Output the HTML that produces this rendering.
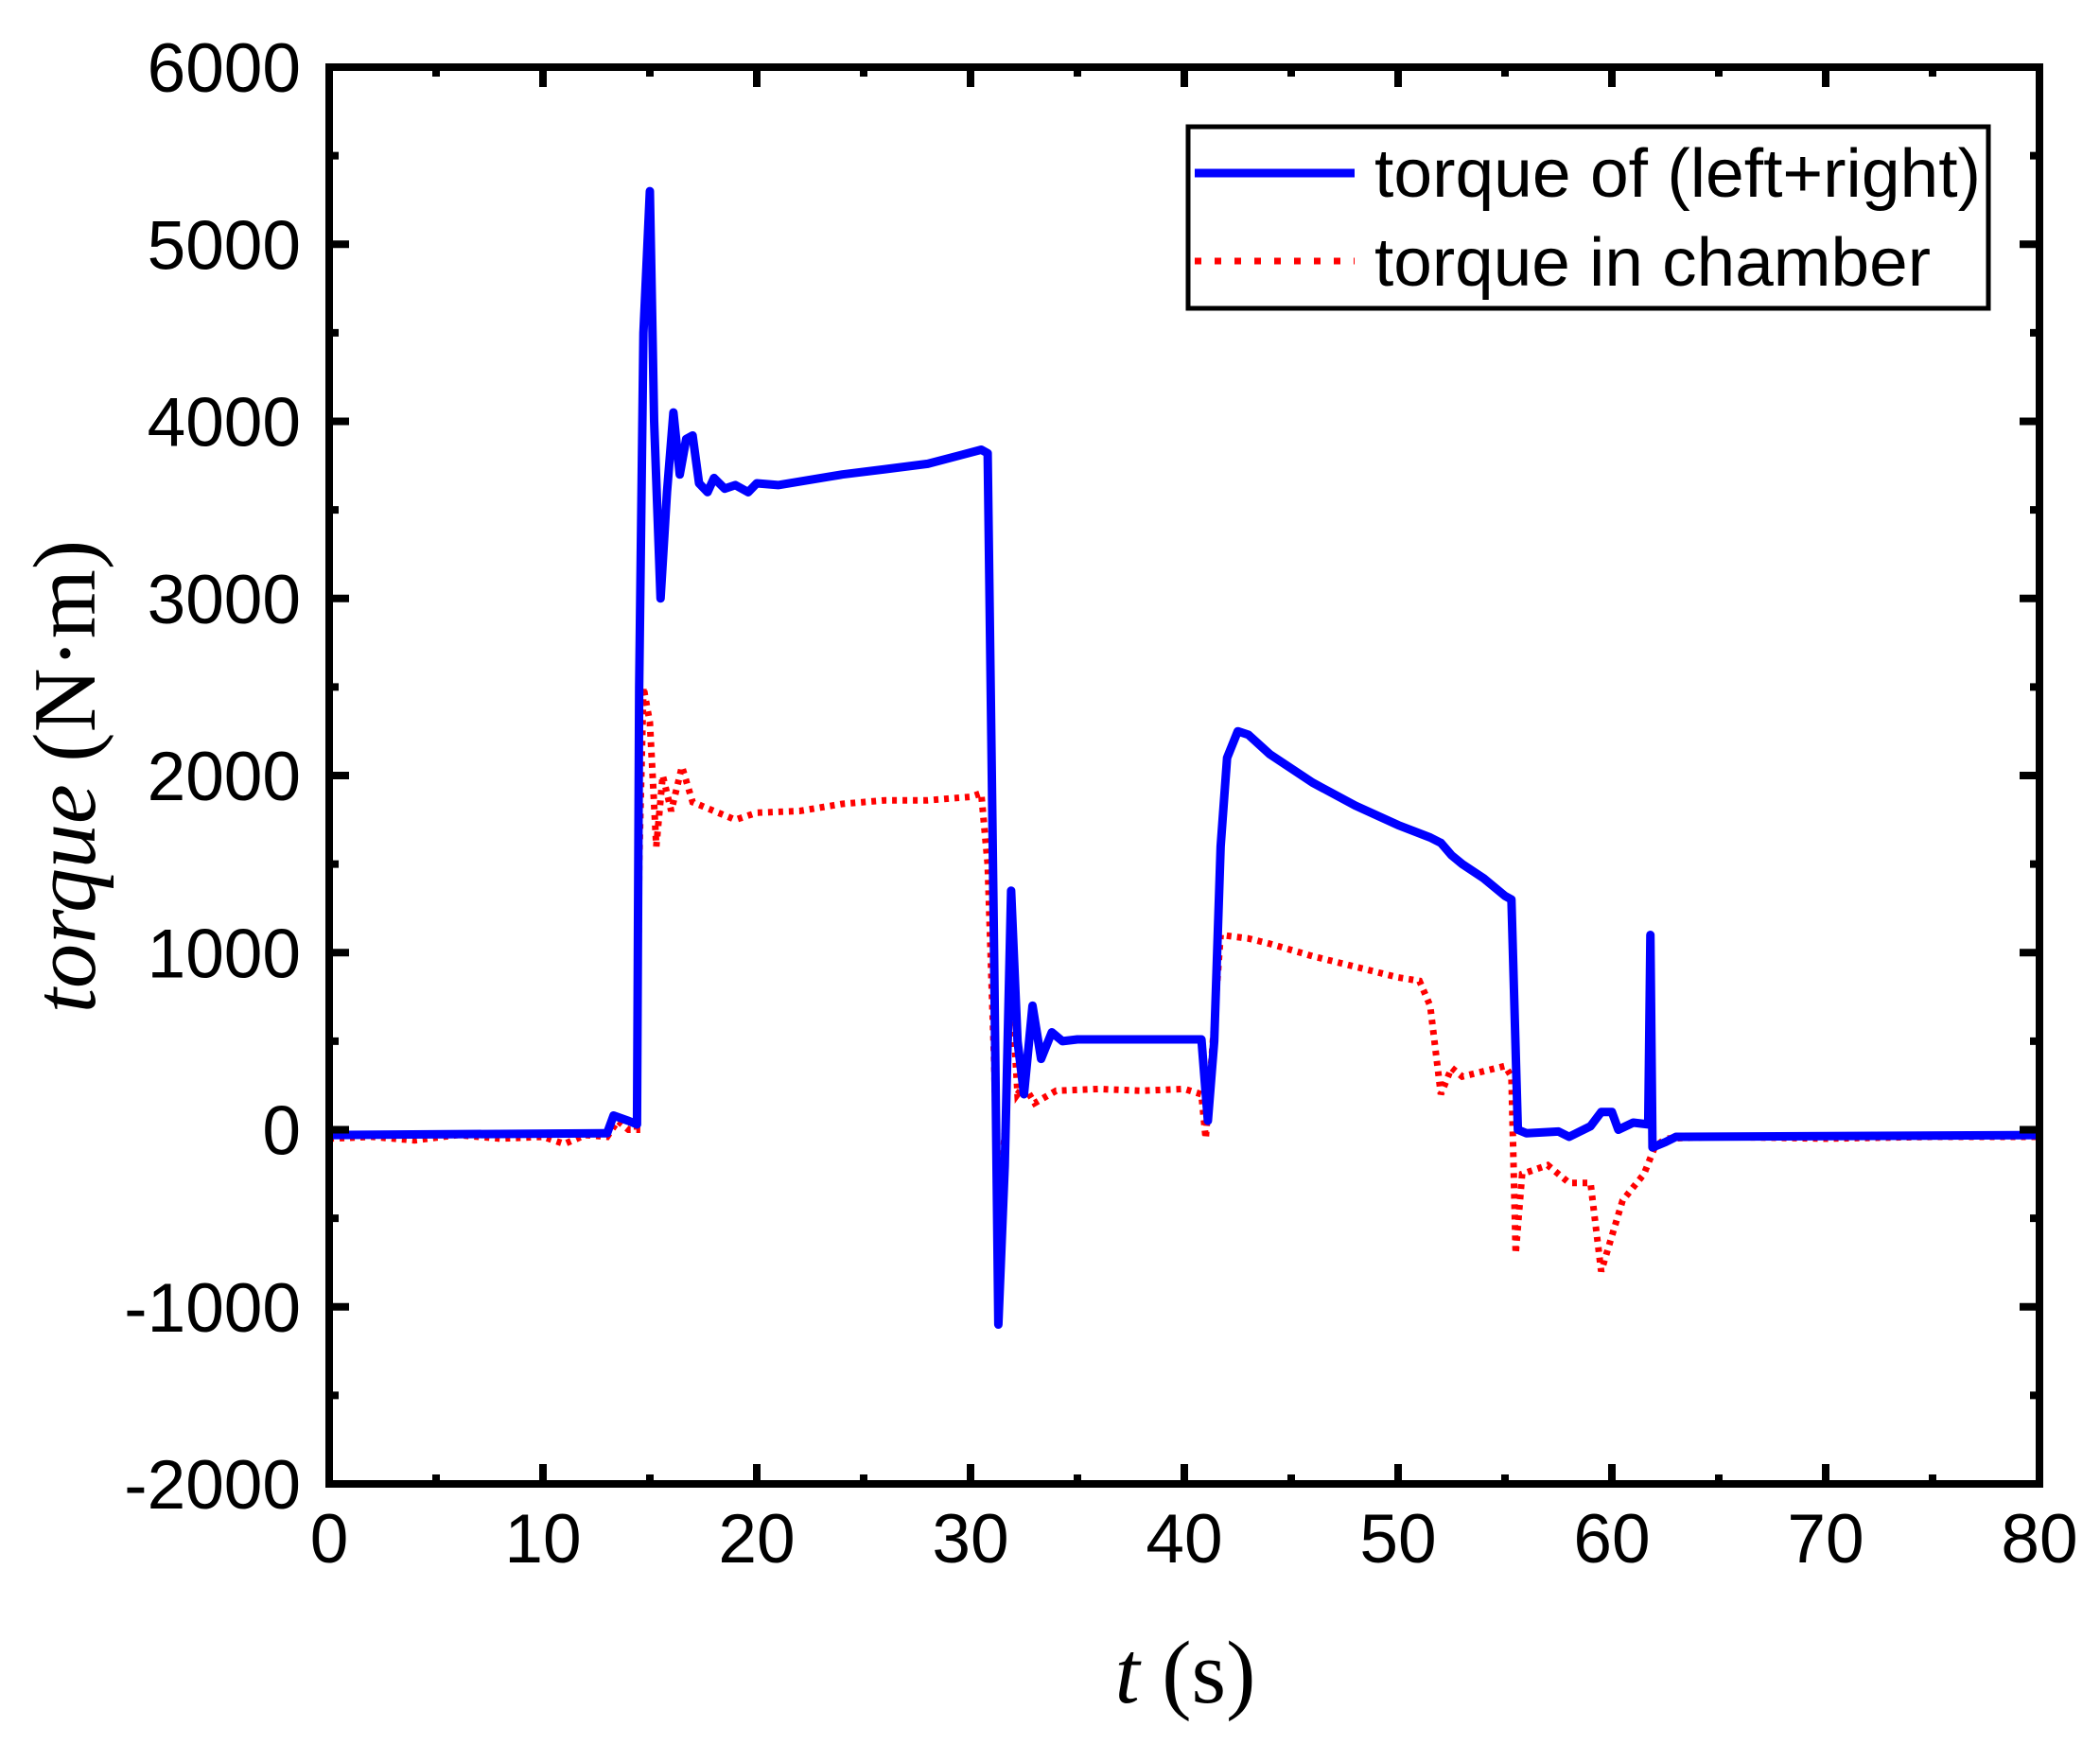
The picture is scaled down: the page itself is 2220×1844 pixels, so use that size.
<!DOCTYPE html>
<html><head><meta charset="utf-8"><style>
html,body{margin:0;padding:0;background:#fff}
svg{display:block}
</style></head><body>
<svg id="chart" width="2220" height="1844" viewBox="0 0 2220 1844" xmlns="http://www.w3.org/2000/svg">
<rect width="2220" height="1844" fill="#fff"/>
<g id="plot"></g>
<g id="axes"></g>
<text transform="translate(100,821) rotate(-90)" text-anchor="middle" font-family="Liberation Serif, serif" font-size="94"><tspan font-style="italic">torque</tspan> (N·m)</text>
<text x="1253" y="1800" text-anchor="middle" font-family="Liberation Serif, serif" font-size="94"><tspan font-style="italic">t</tspan> (s)</text>
<g>
<rect x="1256" y="134" width="846" height="192" fill="#fff" stroke="#000" stroke-width="5"/>
<line x1="1263" y1="183" x2="1432" y2="183" stroke="#0000ff" stroke-width="9"/>
<text x="1453" y="208" font-family="Liberation Sans, sans-serif" font-size="72" textLength="641" lengthAdjust="spacingAndGlyphs">torque of (left+right)</text>
<line x1="1263" y1="276" x2="1432" y2="276" stroke="#ff0000" stroke-width="7" stroke-dasharray="7 14"/>
<text x="1453" y="302" font-family="Liberation Sans, sans-serif" font-size="72" textLength="588" lengthAdjust="spacingAndGlyphs">torque in chamber</text>
</g>
</svg>
<script>
const blueT=[0,13,13.3,14,14.4,14.5,14.7,15.0,15.2,15.5,15.8,16.1,16.4,16.7,17,17.3,17.7,18,18.5,19,19.6,20,21,22,23,24,26,28,30.5,30.8,31.1,31.3,31.6,31.9,32.2,32.5,32.9,33.3,33.8,34.3,35,40.8,41.1,41.4,41.7,42.0,42.5,43,44,46,48,50,51.5,52,52.5,53,54,55,55.3,55.6,56,57.5,58,59,59.5,60,60.3,61,61.7,61.8,61.9,62.5,63,80];
const blueV=[-30,-20,80,50,30,2500,4500,5300,4000,3000,3600,4050,3700,3900,3920,3650,3600,3680,3620,3640,3600,3650,3640,3660,3680,3700,3730,3760,3840,3820,1000,-1100,-200,1350,500,200,700,400,550,500,510,510,50,500,1600,2100,2250,2230,2120,1960,1830,1720,1650,1620,1550,1500,1420,1320,1300,0,-20,-10,-40,20,100,100,0,40,30,1100,-100,-70,-40,-30];
const redT=[0,2,4,6,8,10,11,12,13,13.5,14,14.4,14.5,14.7,15,15.3,15.6,16,16.5,17,18,19,20,22,24,26,28,30,30.5,30.8,31.1,31.3,31.6,31.9,32.2,32.5,33,34,36,38,40,40.8,41,41.4,41.7,43,44,46,48,50,51,51.5,52,52.5,53,55,55.3,55.5,55.8,57,58,59,59.5,60,60.5,61.5,62,62.5,65,70,75,80];
const redV=[-50,-40,-60,-30,-50,-40,-80,-30,-40,50,0,0,1500,2500,2300,1600,2000,1800,2050,1850,1800,1750,1790,1800,1840,1860,1860,1880,1900,1500,400,-600,0,850,200,250,150,220,230,220,230,200,-50,600,1100,1080,1050,980,920,860,840,700,200,350,300,360,300,-700,-250,-200,-300,-300,-800,-600,-400,-250,-100,-50,-40,-50,-40,-40];
const xTicks=[0,10,20,30,40,50,60,70,80];
const yTicks=[-2000,-1000,0,1000,2000,3000,4000,5000,6000];
const X0=348,X1=2156,Y0=1569,Y1=71;
const sx=t=>X0+(t-0)/80*(X1-X0);
const sy=v=>Y0-(v+2000)/8000*(Y0-Y1);
const NS='http://www.w3.org/2000/svg';
const plot=document.getElementById('plot'),axes=document.getElementById('axes');
function mk(tag,parent){const e=document.createElementNS(NS,tag);parent.appendChild(e);return e;}
function path(T,V){return T.map((t,i)=>(i?'L':'M')+sx(t).toFixed(1)+','+sy(V[i]).toFixed(1)).join('');}
const r=mk('path',plot);


r.setAttribute('d',path(redT,redV));r.setAttribute('fill','none');r.setAttribute('stroke','#ff0000');r.setAttribute('stroke-width','7');r.setAttribute('stroke-dasharray','5 6');
const b=mk('path',plot);


b.setAttribute('d',path(blueT,blueV));b.setAttribute('fill','none');b.setAttribute('stroke','#0000ff');b.setAttribute('stroke-width','9');b.setAttribute('stroke-linejoin','round');
const fr=mk('rect',axes);


fr.setAttribute('x',X0);fr.setAttribute('y',Y1);fr.setAttribute('width',X1-X0);fr.setAttribute('height',Y0-Y1);fr.setAttribute('fill','none');fr.setAttribute('stroke','#000');fr.setAttribute('stroke-width','8');
function tick(x1,y1,x2,y2){const l=mk('line',axes);l.setAttribute('x1',x1);l.setAttribute('y1',y1);l.setAttribute('x2',x2);l.setAttribute('y2',y2);l.setAttribute('stroke','#000');l.setAttribute('stroke-width','8');}
for(let t=0;t<=80;t+=5){const x=sx(t),L=(t%10===0)?21:10;tick(x,Y0,x,Y0-L);tick(x,Y1,x,Y1+L);}
for(let v=-2000;v<=6000;v+=500){const y=sy(v),L=(v%1000===0)?21:10;tick(X0,y,X0+L,y);tick(X1,y,X1-L,y);}
xTicks.forEach(t=>{const e=mk('text',axes);e.setAttribute('x',sx(t));e.setAttribute('y',1652);e.setAttribute('text-anchor','middle');e.setAttribute('font-family','Liberation Sans, sans-serif');e.setAttribute('font-size','73');e.textContent=t;});
yTicks.forEach(v=>{const e=mk('text',axes);e.setAttribute('x',318);e.setAttribute('y',sy(v)+26);e.setAttribute('text-anchor','end');e.setAttribute('font-family','Liberation Sans, sans-serif');e.setAttribute('font-size','73');e.textContent=v;});
</script>
</body></html>
